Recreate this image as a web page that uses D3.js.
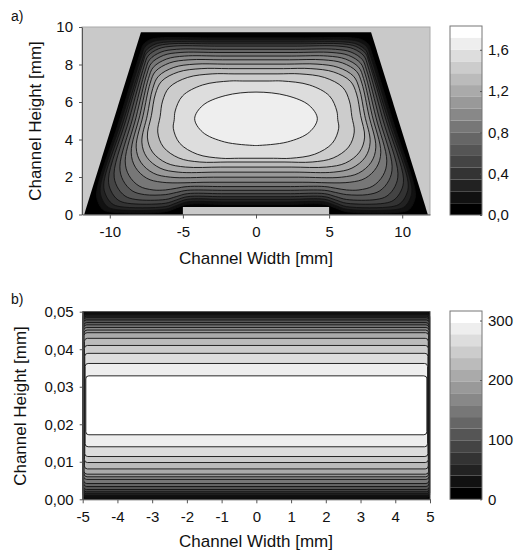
<!DOCTYPE html>
<html>
<head>
<meta charset="utf-8">
<script src="https://cdn.jsdelivr.net/npm/d3@7"></script>
<style>
  html, body { margin: 0; padding: 0; background: #fff; }
  svg { display: block; font-family: "Liberation Sans", Arial, Helvetica, sans-serif; }
  .axis text { font-size: 15px; fill: #111; }
  .axis path, .axis line { stroke: #555; }
</style>
</head>
<body>
<svg id="chart" width="517" height="550"></svg>
<script>
// ---------- panel a: trapezoidal channel ----------
const channelX = [-11.75, 11.75, 7.87, -7.87];
const channelY = [0, 0, 9.72, 9.72];
const blockX = [-5, 5];
const blockY = [0, 0.4];
const ticksAX = [-10, -5, 0, 5, 10];
const ticksAY = [0, 2, 4, 6, 8, 10];
const ticksCA = [0, 0.4, 0.8, 1.2, 1.6];
const rangeA = [0, 1.83];
const levelsA = [0.114, 0.229, 0.343, 0.458, 0.572, 0.686, 0.801, 0.915,
                 1.029, 1.144, 1.258, 1.373, 1.487, 1.601, 1.716];
// contour geometry per level (data units): crossing of x=0 at top / bottom,
// crossing of y=5 on the side, side lean (dx/dy), level beside the block,
// corner radii (vertical and horizontal) at top and bottom
const yTopA   = [9.42, 9.32, 9.20, 9.10, 8.98, 8.81, 8.64, 8.45, 8.25, 8.02, 7.78, 7.50, 7.12, 6.53];
const yBotA   = [0.54, 0.67, 0.81, 0.95, 1.11, 1.29, 1.49, 1.72, 1.99, 2.26, 2.53, 2.80, 3.00, 3.68];
const xMidA   = [9.36, 9.21, 9.06, 8.91, 8.70, 8.48, 8.26, 8.03, 7.80, 7.51, 7.22, 6.60, 5.60, 4.20];
const leanA   = [-0.40, -0.40, -0.40, -0.38, -0.36, -0.34, -0.32, -0.30, -0.28, -0.26, -0.24, -0.20, -0.14, -0.05];
const yFloorA = [0.15, 0.28, 0.42, 0.60, 0.80, 1.06, 1.31, 1.72, 1.99, 2.26, 2.53, 2.80, 3.00, 3.68];
const rTopA   = [0.70, 0.80, 0.90, 1.00, 1.05, 1.10, 1.15, 1.20, 1.25, 1.30, 1.35, 1.45, 1.60, 1.42];
const rBotA   = [1.00, 1.10, 1.20, 1.30, 1.40, 1.50, 1.55, 1.60, 1.60, 1.60, 1.60, 1.60, 1.60, 1.42];
const rxTopA  = [1.00, 1.15, 1.30, 1.45, 1.60, 1.75, 1.90, 2.10, 2.30, 2.55, 2.80, 3.10, 3.50, 4.10];
const rxBotA  = [1.20, 1.40, 1.60, 1.80, 2.00, 2.20, 2.40, 2.60, 2.80, 2.90, 3.00, 3.20, 3.50, 4.15];

// ---------- panel b: parallel plate gap ----------
const ticksBX = [-5, -4, -3, -2, -1, 0, 1, 2, 3, 4, 5];
const ticksBY = [0, 0.01, 0.02, 0.03, 0.04, 0.05];
const ticksCB = [0, 100, 200, 300];
const rangeB = [0, 316];
const levelsB = [20, 40, 59, 79, 99, 119, 138, 158, 178, 198, 217, 237, 257, 277, 296];
const yLoB = [0.0005, 0.0010, 0.0015, 0.0020, 0.0026, 0.0034, 0.0042, 0.0053,
              0.0060, 0.0067, 0.0081, 0.0098, 0.0114, 0.0140, 0.0172];
const yHiB = [0.0496, 0.0492, 0.0488, 0.0484, 0.0478, 0.0471, 0.0465, 0.0458,
              0.0451, 0.0444, 0.0429, 0.0410, 0.0389, 0.0362, 0.0329];
const xEndB = [4.99, 4.99, 4.98, 4.98, 4.98, 4.97, 4.97, 4.97, 4.96, 4.96, 4.95, 4.95, 4.94, 4.93, 4.91];

const svg = d3.select("#chart");
const loc = d3.formatLocale({decimal: ",", thousands: ".", grouping: [3], currency: ["", ""], minus: "-"});
const gray = i => { const g = Math.round(i * 255 / 15); return `rgb(${g},${g},${g})`; };
const bgGray = "#c9c9c9";
const lineCol = "#111";

// ===== panel a =====
const xA = d3.scaleLinear().domain([-11.9, 11.9]).range([82, 430]);
const yA = d3.scaleLinear().domain([0, 10]).range([214.5, 27]);
const gA = svg.append("g");

gA.append("rect").attr("x", xA(-11.9)).attr("y", yA(10))
  .attr("width", xA(11.9) - xA(-11.9)).attr("height", yA(0) - yA(10))
  .attr("fill", bgGray).attr("stroke", "#aaa");

const chanPts = channelX.map((x, i) => [xA(x), yA(channelY[i])]);
const clip = svg.append("defs").append("clipPath").attr("id", "chanClip");
clip.append("polygon").attr("points", chanPts.map(p => p.join(",")).join(" "));

gA.append("polygon").attr("points", chanPts.map(p => p.join(",")).join(" "))
  .attr("fill", gray(0));

// closed outline of one contour level: right half traced clockwise, then mirrored
function ringA(k) {
  const yt = yTopA[k], yb = yBotA[k], xm = xMidA[k], L = leanA[k];
  const yf = yFloorA[k], rt = rTopA[k], rb = rBotA[k];
  const rxt = rxTopA[k], rxb = rxBotA[k];
  const xs = y => xm + L * (y - 5);
  const xtc = xs(yt), xbc = xs(yf);
  const yU = yt - rt, yL = yf + rb;
  const x0t = Math.max(xtc - rxt, 0), x0b = Math.max(xbc - rxb, 0);
  const angles = [0, 30, 60, 90].map(a => a * Math.PI / 180);
  const p = [[0, yt]];
  if (x0t > 0.6) p.push([x0t / 2, yt]);
  // upper corner arc
  angles.forEach(a => {
    const x = x0t + (xs(yU) - x0t) * Math.sin(a);
    if (a === 0 && x0t < 0.05) return;
    p.push([x, yU + rt * Math.cos(a)]);
  });
  if (yU - yL > 0.8) p.push([xs((yU + yL) / 2), (yU + yL) / 2]);
  // lower corner arc
  angles.slice().reverse().forEach(a => {
    if (a === Math.PI / 2 && yU - yL < 0.05) return;
    if (a === 0 && x0b < 0.05) return;
    const x = x0b + (xs(yL) - x0b) * Math.sin(a);
    p.push([x, yL - rb * Math.cos(a)]);
  });
  let lastX = x0b;
  if (yb - yf > 0.02) {
    p.push([6.2, yf]); p.push([5.45, (yf + yb) / 2]); p.push([4.7, yb]);
    lastX = 4.7;
  }
  if (lastX > 0.6) p.push([lastX / 2, yb]);
  p.push([0, yb]);
  const mirror = p.slice(1, -1).reverse().map(([x, y]) => [-x, y]);
  return p.concat(mirror);
}

const lineA = d3.line().x(d => xA(d[0])).y(d => yA(d[1]))
  .curve(d3.curveCatmullRomClosed.alpha(0.5));
const cont = gA.append("g").attr("clip-path", "url(#chanClip)");
yTopA.forEach((_, k) => {
  cont.append("path").attr("d", lineA(ringA(k)))
    .attr("fill", gray(k + 1)).attr("stroke", lineCol).attr("stroke-width", 0.9);
});

gA.append("rect").attr("x", xA(blockX[0])).attr("y", yA(blockY[1]))
  .attr("width", xA(blockX[1]) - xA(blockX[0])).attr("height", yA(blockY[0]) - yA(blockY[1]))
  .attr("fill", bgGray);

gA.append("g").attr("class", "axis").attr("transform", `translate(0,${yA(0)})`)
  .call(d3.axisBottom(xA).tickValues(ticksAX).tickFormat(loc.format("d")).tickSize(4).tickSizeOuter(0).tickPadding(8));
gA.append("g").attr("class", "axis").attr("transform", `translate(${xA(-11.9)},0)`)
  .call(d3.axisLeft(yA).tickValues(ticksAY).tickFormat(loc.format("d")).tickSize(3).tickSizeOuter(0).tickPadding(6));

// colorbar a
const cA = d3.scaleLinear().domain(rangeA).range([215, 26]);
const edgesA = [rangeA[0], ...levelsA, rangeA[1]];
const cbA = svg.append("g");
edgesA.slice(0, -1).forEach((v, i) => {
  cbA.append("rect").attr("x", 450).attr("width", 32)
    .attr("y", cA(edgesA[i + 1])).attr("height", cA(v) - cA(edgesA[i + 1]))
    .attr("fill", gray(i));
});
cbA.append("rect").attr("x", 450).attr("y", cA(rangeA[1])).attr("width", 32)
  .attr("height", cA(rangeA[0]) - cA(rangeA[1])).attr("fill", "none").attr("stroke", "#777");
cbA.append("g").attr("class", "axis").attr("transform", "translate(482,0)")
  .call(d3.axisRight(cA).tickValues(ticksCA).tickFormat(loc.format(".1f")).tickSize(-2).tickSizeOuter(0).tickPadding(6))
  .call(g => g.select(".domain").remove());

// ===== panel b =====
const xB = d3.scaleLinear().domain([-5, 5]).range([82.7, 430]);
const yB = d3.scaleLinear().domain([0, 0.05]).range([499.3, 311.7]);
const gB = svg.append("g");
gB.append("rect").attr("x", xB(-5)).attr("y", yB(0.05))
  .attr("width", xB(5) - xB(-5)).attr("height", yB(0) - yB(0.05)).attr("fill", gray(0));
levelsB.forEach((lv, k) => {
  gB.append("rect")
    .attr("x", xB(-xEndB[k])).attr("width", xB(xEndB[k]) - xB(-xEndB[k]))
    .attr("y", yB(yHiB[k])).attr("height", yB(yLoB[k]) - yB(yHiB[k]))
    .attr("rx", 3).attr("ry", 3)
    .attr("fill", gray(k + 1)).attr("stroke", lineCol).attr("stroke-width", 0.9);
});
gB.append("rect").attr("x", xB(-5)).attr("y", yB(0.05))
  .attr("width", xB(5) - xB(-5)).attr("height", yB(0) - yB(0.05))
  .attr("fill", "none").attr("stroke", "#444");

gB.append("g").attr("class", "axis").attr("transform", `translate(0,${yB(0)})`)
  .call(d3.axisBottom(xB).tickValues(ticksBX).tickFormat(loc.format("d")).tickSize(4).tickSizeOuter(0).tickPadding(8));
gB.append("g").attr("class", "axis").attr("transform", `translate(${xB(-5)},0)`)
  .call(d3.axisLeft(yB).tickValues(ticksBY).tickFormat(loc.format(".2f")).tickSize(3).tickSizeOuter(0).tickPadding(6));

const cB = d3.scaleLinear().domain(rangeB).range([499.3, 311]);
const edgesB = [rangeB[0], ...levelsB, rangeB[1]];
const cbB = svg.append("g");
edgesB.slice(0, -1).forEach((v, i) => {
  cbB.append("rect").attr("x", 450).attr("width", 32)
    .attr("y", cB(edgesB[i + 1])).attr("height", cB(v) - cB(edgesB[i + 1]))
    .attr("fill", gray(i));
});
cbB.append("rect").attr("x", 450).attr("y", cB(rangeB[1])).attr("width", 32)
  .attr("height", cB(rangeB[0]) - cB(rangeB[1])).attr("fill", "none").attr("stroke", "#777");
cbB.append("g").attr("class", "axis").attr("transform", "translate(482,0)")
  .call(d3.axisRight(cB).tickValues(ticksCB).tickFormat(loc.format("d")).tickSize(-2).tickSizeOuter(0).tickPadding(6))
  .call(g => g.select(".domain").remove());

// ===== titles =====
const txt = (x, y, s, size, rot) => {
  const t = svg.append("text").attr("x", x).attr("y", y).text(s)
    .attr("font-size", size).attr("fill", "#111");
  if (rot) t.attr("transform", `rotate(-90,${x},${y})`).attr("text-anchor", "middle");
  return t;
};
txt(11, 21, "a)", 14);
txt(11, 304, "b)", 14);
txt(256, 264, "Channel Width [mm]", 17).attr("text-anchor", "middle");
txt(256, 547, "Channel Width [mm]", 17).attr("text-anchor", "middle");
txt(41, 121, "Channel Height [mm]", 17, true);
txt(26, 406, "Channel Height [mm]", 17, true);
</script>
</body>
</html>
